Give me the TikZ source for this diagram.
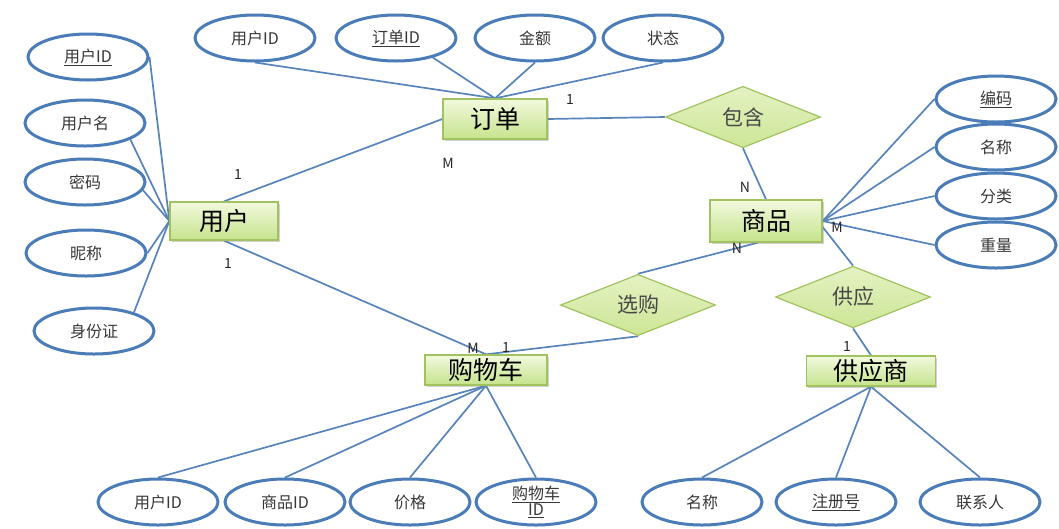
\documentclass[tikz,border=0pt]{standalone}
\usepackage{fontspec}
\setmainfont{Noto Sans CJK SC}
\usetikzlibrary{shapes.geometric,shadows,backgrounds}
\definecolor{eblue}{RGB}{74,124,184}
\definecolor{lblue}{RGB}{88,132,188}
\definecolor{ggreen}{RGB}{160,195,95}
\definecolor{gtop}{RGB}{242,249,222}
\definecolor{gbot}{RGB}{198,227,140}
\definecolor{dtop}{RGB}{228,242,195}
\definecolor{dbot}{RGB}{205,230,150}
\tikzset{
  attr/.style={ellipse, draw=eblue, line width=3pt, fill=white, minimum width=120pt, minimum height=46pt, inner sep=0pt, font=\fontsize{16}{18}\selectfont, text=black!78, align=center},
  ent/.style={rectangle, draw=ggreen, line width=1.3pt, top color=gtop, bottom color=gbot, drop shadow={opacity=0.35, shadow xshift=1.5pt, shadow yshift=-2pt}, font=\fontsize{25}{27}\selectfont, inner sep=0pt},
  rel/.style={diamond, draw=ggreen, line width=1.2pt, top color=dtop, bottom color=dbot, minimum width=155pt, minimum height=52pt, inner sep=0pt, font=\fontsize{21}{23}\selectfont, text=black!72},
  link/.style={draw=lblue, line width=1.7pt},
  card/.style={font=\fontsize{14}{16}\selectfont, text=black!85, inner sep=0pt}
}
\begin{document}
\begin{tikzpicture}[x=1pt,y=-1pt]
\useasboundingbox (0,0) rectangle (1059,528);
% entities
\node[ent, minimum width=108pt, minimum height=38pt] (user) at (224,221) {用户};
\node[ent, minimum width=104pt, minimum height=40pt] (order) at (495,119) {订单};
\node[ent, minimum width=112pt, minimum height=42pt] (prod) at (766,221) {商品};
\node[ent, minimum width=122pt, minimum height=30pt] (cart) at (486,370) {购物车};
\node[ent, minimum width=129pt, minimum height=30pt] (supp) at (871,371) {供应商};
% relations
\node[rel] (contain) at (743,117) {包含};
\node[rel] (choose) at (638,305) {选购};
\node[rel] (supply) at (853,297) {供应};
% user attributes
\node[attr] (u1) at (88,57) {\underline{用户ID}};
\node[attr] (u2) at (85,123) {用户名};
\node[attr] (u3) at (85,182) {密码};
\node[attr] (u4) at (86,253) {昵称};
\node[attr] (u5) at (94,331) {身份证};
% order attributes
\node[attr] (o1) at (255,38) {用户ID};
\node[attr] (o2) at (396,38) {\underline{订单ID}};
\node[attr] (o3) at (535,38) {金额};
\node[attr] (o4) at (663,38) {状态};
% product attributes
\node[attr] (p1) at (996,99) {\underline{编码}};
\node[attr] (p2) at (996,147) {名称};
\node[attr] (p3) at (996,196) {分类};
\node[attr] (p4) at (996,245) {重量};
% cart attributes
\node[attr] (c1) at (158,502) {用户ID};
\node[attr] (c2) at (285,502) {商品ID};
\node[attr] (c3) at (410,502) {价格};
\node[attr, font=\fontsize{16}{18}\selectfont] (c4) at (536,502) {\underline{购物车}\\[-2pt]\underline{ID}};
% supplier attributes
\node[attr] (s1) at (702,502) {名称};
\node[attr] (s2) at (836,502) {\underline{注册号}};
\node[attr] (s3) at (980,502) {联系人};
% cardinalities
\node[card] (k1) at (238,175) {1};
\node[card] (k2) at (448,163) {M};
\node[card] (k3) at (228,264) {1};
\node[card] (k4) at (473,348) {M};
\node[card] (k5) at (506,348) {1};
\node[card] (k6) at (570,100) {1};
\node[card] (k7) at (745,187) {N};
\node[card] (k8) at (837,227) {M};
\node[card] (k9) at (737,248) {N};
\node[card] (k10) at (847,347) {1};
\begin{scope}[on background layer]
\fill[white] (0,0) rectangle (1059,528);
\draw[link] (u1.east) -- (user.west);
\draw[link] (u2.-20) -- (user.west);
\draw[link] (u3.-8) -- (user.west);
\draw[link] (u4.east) -- (user.west);
\draw[link] (u5.25) -- (user.west);
\draw[link] (o1.south) -- (order.north);
\draw[link] (o2.-28) -- (order.north);
\draw[link] (o3.south) -- (order.north);
\draw[link] (o4.south) -- (order.north);
\draw[link] (user.north) -- (order.west);
\draw[link] (user.south) -- (cart.north);
\draw[link] (order.east) -- (contain.west);
\draw[link] (contain.south) -- (prod.north);
\draw[link] (choose.north) -- ([xshift=-8pt]prod.south);
\draw[link] (choose.south) -- (cart.north);
\draw[link] (prod.east) -- (p1.west);
\draw[link] (prod.east) -- (p2.west);
\draw[link] (prod.east) -- (p3.west);
\draw[link] (prod.east) -- (p4.west);
\draw[link] ([yshift=-6pt]prod.east) -- (supply.north);
\draw[link] (supply.south) -- (supp.north);
\draw[link] (cart.south) -- (c1.north);
\draw[link] (cart.south) -- (c2.north);
\draw[link] (cart.south) -- (c3.north);
\draw[link] (cart.south) -- (c4.north);
\draw[link] (supp.south) -- (s1.north);
\draw[link] (supp.south) -- (s2.north);
\draw[link] (supp.south) -- (s3.north);
\end{scope}
\end{tikzpicture}
\end{document}
